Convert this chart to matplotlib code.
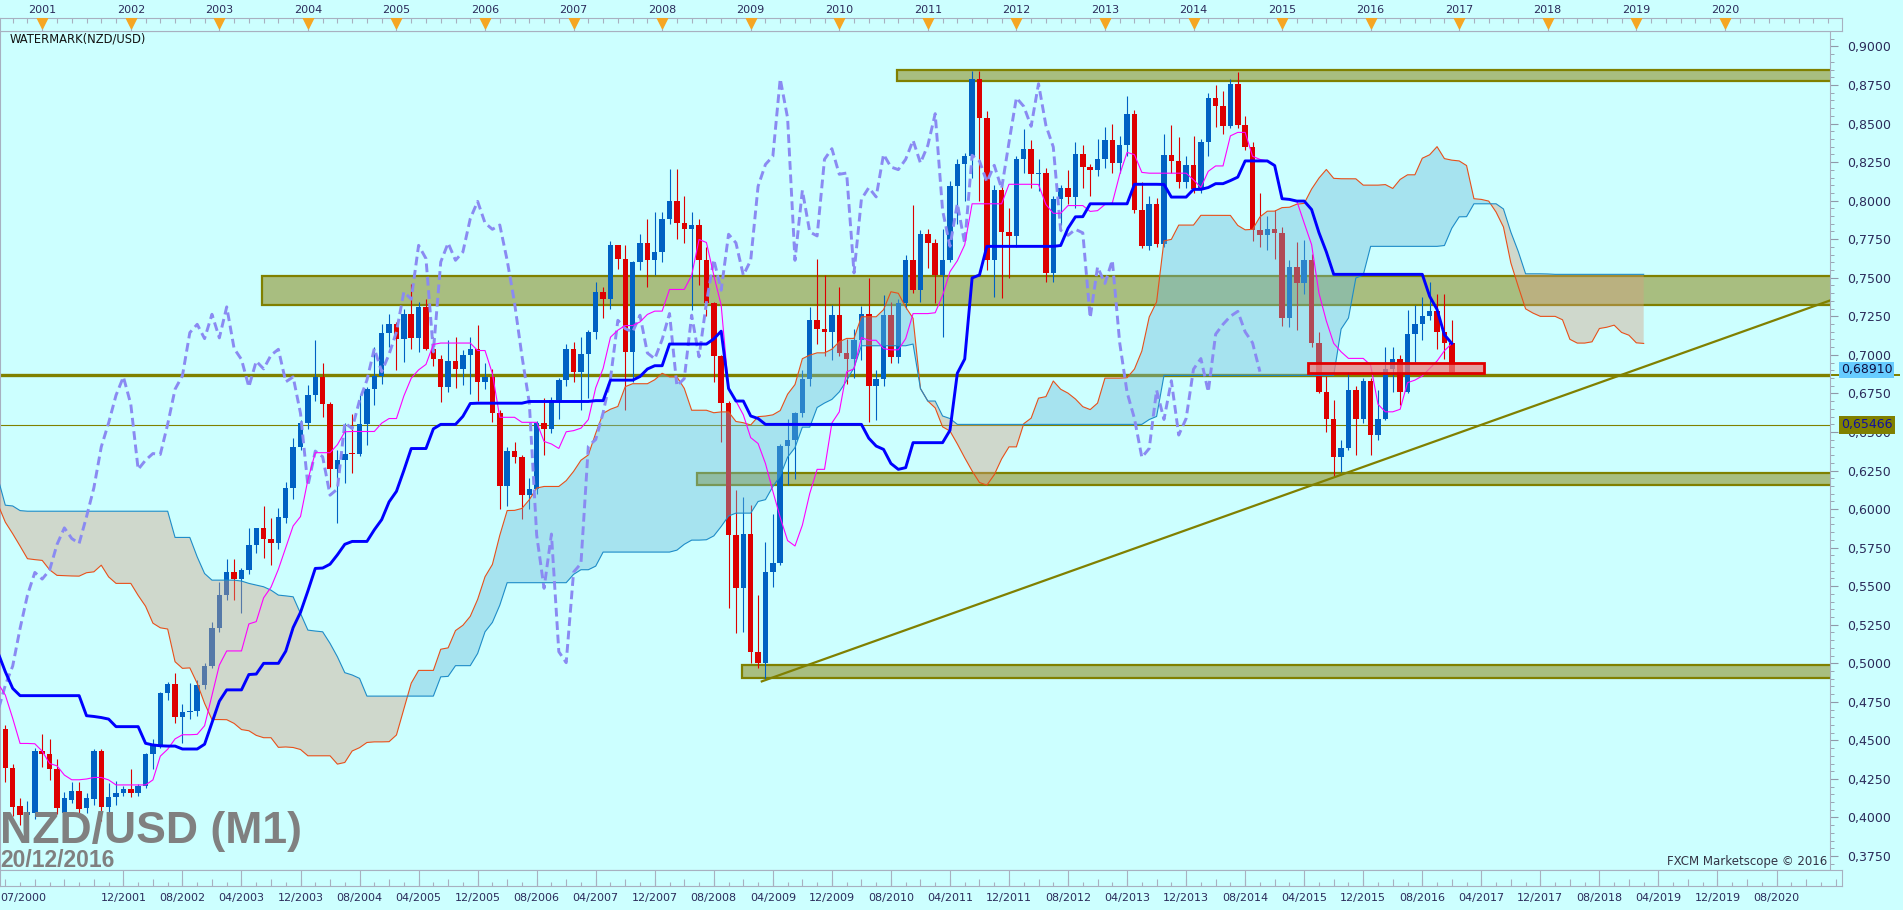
import numpy as np
import pandas as pd
import matplotlib
matplotlib.use("Agg")
import matplotlib.pyplot as plt
from matplotlib.patches import Rectangle

# monthly candles 07/2000 .. 12/2016
opens = [
    0.4675, 0.4571, 0.4319, 0.4075, 0.4016, 0.4027, 0.4431, 0.4411, 0.4312, 0.4031,
    0.4113, 0.4172, 0.4059, 0.4120, 0.4431, 0.4070, 0.4135, 0.4161, 0.4183, 0.4161,
    0.4204, 0.4411, 0.4470, 0.4805, 0.4864, 0.4653, 0.4685, 0.4690, 0.4858, 0.4982,
    0.5226, 0.5442, 0.5589, 0.5546, 0.5604, 0.5770, 0.5878, 0.5809, 0.5777, 0.5945,
    0.6138, 0.6403, 0.6559, 0.6738, 0.6857, 0.6680, 0.6257, 0.6317, 0.6360, 0.6354,
    0.6550, 0.6777, 0.6865, 0.7144, 0.7198, 0.7105, 0.7263, 0.7110, 0.7311, 0.7041,
    0.6970, 0.6792, 0.6959, 0.6909, 0.6998, 0.7036, 0.6825, 0.6857, 0.6620, 0.6151,
    0.6376, 0.6339, 0.6090, 0.6130, 0.6559, 0.6522, 0.6706, 0.6836, 0.7041, 0.6890,
    0.7004, 0.7149, 0.7408, 0.7361, 0.7710, 0.7624, 0.7019, 0.7602, 0.7725, 0.7613,
    0.7667, 0.7883, 0.7995, 0.7855, 0.7814, 0.7842, 0.7613, 0.7337, 0.6993, 0.6689,
    0.5831, 0.5486, 0.5838, 0.5075, 0.5004, 0.5591, 0.5647, 0.6408, 0.6451, 0.6624,
    0.6846, 0.7224, 0.7170, 0.7148, 0.7257, 0.7012, 0.6974, 0.7099, 0.7268, 0.6799,
    0.6846, 0.7257, 0.6987, 0.7339, 0.7618, 0.7419, 0.7782, 0.7726, 0.7516, 0.7613,
    0.8093, 0.8235, 0.8287, 0.8790, 0.8536, 0.7613, 0.8067, 0.7797, 0.7771, 0.8268,
    0.8337, 0.8171, 0.8179, 0.7531, 0.8009, 0.8084, 0.8024, 0.8300, 0.8218, 0.8201,
    0.8268, 0.8391, 0.8244, 0.8358, 0.8564, 0.7937, 0.7704, 0.7981, 0.7721, 0.8294,
    0.8257, 0.8121, 0.8229, 0.8078, 0.8378, 0.8667, 0.8611, 0.8482, 0.8758, 0.8488,
    0.8348, 0.7808, 0.7775, 0.7814, 0.7791, 0.7240, 0.7570, 0.7463, 0.7613, 0.7078,
    0.6756, 0.6587, 0.6335, 0.6393, 0.6771, 0.6581, 0.6832, 0.6480, 0.6587, 0.6907,
    0.6976, 0.6760, 0.7134, 0.7198, 0.7250, 0.7282, 0.7149, 0.7078,
]
highs = [
    0.4720, 0.4600, 0.4350, 0.4125, 0.4110, 0.4450, 0.4539, 0.4507, 0.4377, 0.4167,
    0.4228, 0.4228, 0.4157, 0.4442, 0.4442, 0.4226, 0.4239, 0.4204, 0.4314, 0.4215,
    0.4420, 0.4507, 0.4815, 0.4880, 0.4938, 0.4735, 0.4869, 0.4890, 0.5000, 0.5270,
    0.5528, 0.5675, 0.5675, 0.5615, 0.5874, 0.5880, 0.6019, 0.5939, 0.6008, 0.6177,
    0.6458, 0.6580, 0.6803, 0.7095, 0.6944, 0.6695, 0.6382, 0.6559, 0.6619, 0.6738,
    0.6792, 0.7051, 0.7203, 0.7263, 0.7210, 0.7300, 0.7462, 0.7343, 0.7365, 0.7116,
    0.7000, 0.7095, 0.7116, 0.7034, 0.7116, 0.7192, 0.6944, 0.6911, 0.6641, 0.6400,
    0.6436, 0.6350, 0.6200, 0.6570, 0.6717, 0.6728, 0.6853, 0.7069, 0.7084, 0.7116,
    0.7160, 0.7473, 0.7440, 0.7739, 0.7715, 0.7710, 0.7610, 0.7786, 0.7883, 0.7926,
    0.7926, 0.8207, 0.8207, 0.8028, 0.7926, 0.7883, 0.7700, 0.7340, 0.7000, 0.6700,
    0.6123, 0.6079, 0.6025, 0.5442, 0.5788, 0.5971, 0.6420, 0.6587, 0.6630, 0.6900,
    0.7311, 0.7624, 0.7516, 0.7322, 0.7440, 0.7100, 0.7170, 0.7315, 0.7500, 0.6900,
    0.7387, 0.7343, 0.7360, 0.7646, 0.7970, 0.7808, 0.7819, 0.7750, 0.7819, 0.8130,
    0.8270, 0.8310, 0.8842, 0.8840, 0.8580, 0.8100, 0.8110, 0.7950, 0.8290, 0.8466,
    0.8390, 0.8270, 0.8210, 0.8030, 0.8100, 0.8200, 0.8380, 0.8360, 0.8240, 0.8400,
    0.8480, 0.8500, 0.8420, 0.8676, 0.8590, 0.8120, 0.8030, 0.8020, 0.8430, 0.8490,
    0.8410, 0.8290, 0.8420, 0.8400, 0.8700, 0.8750, 0.8710, 0.8790, 0.8835, 0.8550,
    0.8380, 0.8050, 0.7900, 0.7940, 0.7830, 0.7613, 0.7732, 0.7745, 0.7657, 0.7150,
    0.6860, 0.6706, 0.6451, 0.6890, 0.6800, 0.6850, 0.6850, 0.6771, 0.7052, 0.7052,
    0.7000, 0.7289, 0.7322, 0.7376, 0.7473, 0.7397, 0.7397, 0.7229,
]
lows = [
    0.4550, 0.4232, 0.4010, 0.3950, 0.3960, 0.3990, 0.4325, 0.4243, 0.4020, 0.3980,
    0.4092, 0.4027, 0.4027, 0.4081, 0.3980, 0.4005, 0.4081, 0.4140, 0.4135, 0.4140,
    0.4190, 0.4312, 0.4448, 0.4760, 0.4615, 0.4485, 0.4636, 0.4660, 0.4830, 0.4967,
    0.5200, 0.5410, 0.5410, 0.5323, 0.5578, 0.5712, 0.5680, 0.5636, 0.5740, 0.5907,
    0.6062, 0.6380, 0.6518, 0.6699, 0.6600, 0.6144, 0.5911, 0.6166, 0.6235, 0.6343,
    0.6414, 0.6673, 0.6814, 0.7051, 0.6900, 0.6954, 0.7041, 0.7019, 0.7030, 0.6930,
    0.6691, 0.6760, 0.6788, 0.6803, 0.6743, 0.6702, 0.6780, 0.6565, 0.5998, 0.6019,
    0.6300, 0.5933, 0.6000, 0.6100, 0.6350, 0.6490, 0.6581, 0.6800, 0.6826, 0.6641,
    0.6717, 0.7100, 0.7242, 0.7300, 0.7559, 0.6641, 0.6825, 0.7550, 0.7440, 0.7516,
    0.7600, 0.7850, 0.7750, 0.7726, 0.7289, 0.7451, 0.7250, 0.6825, 0.6436, 0.5356,
    0.5194, 0.5205, 0.5000, 0.4967, 0.4891, 0.5492, 0.5636, 0.6155, 0.6194, 0.6600,
    0.6800, 0.7073, 0.6991, 0.6969, 0.6990, 0.6814, 0.6853, 0.6965, 0.6565, 0.6576,
    0.6800, 0.6948, 0.6950, 0.7300, 0.7400, 0.7343, 0.7560, 0.7335, 0.7117, 0.7600,
    0.7850, 0.8000, 0.8150, 0.8000, 0.7550, 0.7375, 0.7370, 0.7500, 0.7700, 0.8180,
    0.8080, 0.8060, 0.7470, 0.7470, 0.7840, 0.7980, 0.7950, 0.8080, 0.8030, 0.8160,
    0.8210, 0.8180, 0.8180, 0.8290, 0.7920, 0.7690, 0.7680, 0.7700, 0.7700, 0.8180,
    0.8080, 0.8080, 0.8050, 0.8050, 0.8290, 0.8480, 0.8430, 0.8470, 0.8470, 0.8330,
    0.7740, 0.7700, 0.7680, 0.7620, 0.7190, 0.7181, 0.7159, 0.7397, 0.7050, 0.6750,
    0.6500, 0.6209, 0.6242, 0.6380, 0.6350, 0.6560, 0.6350, 0.6447, 0.6580, 0.6760,
    0.6674, 0.6750, 0.6954, 0.7095, 0.7224, 0.7041, 0.6976, 0.6890,
]
closes = [
    0.4571, 0.4319, 0.4070, 0.4016, 0.4037, 0.4431, 0.4411, 0.4312, 0.4060, 0.4124,
    0.4172, 0.4055, 0.4129, 0.4431, 0.4070, 0.4135, 0.4161, 0.4183, 0.4161, 0.4204,
    0.4411, 0.4470, 0.4805, 0.4864, 0.4653, 0.4685, 0.4690, 0.4858, 0.4982, 0.5226,
    0.5442, 0.5589, 0.5546, 0.5604, 0.5770, 0.5878, 0.5809, 0.5777, 0.5950, 0.6138,
    0.6403, 0.6559, 0.6738, 0.6857, 0.6680, 0.6257, 0.6317, 0.6360, 0.6354, 0.6550,
    0.6777, 0.6865, 0.7144, 0.7198, 0.7105, 0.7263, 0.7110, 0.7311, 0.7041, 0.6970,
    0.6792, 0.6959, 0.6909, 0.6998, 0.7036, 0.6825, 0.6857, 0.6620, 0.6151, 0.6376,
    0.6339, 0.6090, 0.6130, 0.6559, 0.6522, 0.6706, 0.6836, 0.7041, 0.6890, 0.7004,
    0.7149, 0.7408, 0.7361, 0.7710, 0.7624, 0.7019, 0.7602, 0.7725, 0.7613, 0.7667,
    0.7883, 0.7995, 0.7855, 0.7814, 0.7842, 0.7613, 0.7337, 0.6993, 0.6689, 0.5831,
    0.5486, 0.5838, 0.5075, 0.5004, 0.5591, 0.5647, 0.6408, 0.6451, 0.6624, 0.6846,
    0.7224, 0.7170, 0.7148, 0.7257, 0.7012, 0.6974, 0.7099, 0.7268, 0.6799, 0.6846,
    0.7257, 0.6987, 0.7339, 0.7618, 0.7419, 0.7782, 0.7726, 0.7516, 0.7613, 0.8093,
    0.8235, 0.8287, 0.8790, 0.8536, 0.7613, 0.8067, 0.7797, 0.7771, 0.8268, 0.8337,
    0.8171, 0.8179, 0.7531, 0.8009, 0.8084, 0.8024, 0.8300, 0.8218, 0.8201, 0.8268,
    0.8391, 0.8244, 0.8358, 0.8564, 0.7937, 0.7704, 0.7981, 0.7721, 0.8294, 0.8257,
    0.8121, 0.8229, 0.8078, 0.8378, 0.8667, 0.8611, 0.8482, 0.8758, 0.8488, 0.8348,
    0.7808, 0.7775, 0.7814, 0.7791, 0.7240, 0.7570, 0.7463, 0.7613, 0.7078, 0.6756,
    0.6587, 0.6335, 0.6393, 0.6771, 0.6581, 0.6832, 0.6480, 0.6587, 0.6907, 0.6976,
    0.6760, 0.7134, 0.7198, 0.7250, 0.7282, 0.7149, 0.7078, 0.6891,
]

# ichimoku values at the left edge (they depend on history before 07/2000)
tenkan_start = [0.4870, 0.4794, 0.4643, 0.4480, 0.4480, 0.4478, 0.4430, 0.4350]
kijun_start = [0.5070, 0.4945, 0.4837, 0.4790, 0.4790, 0.4790, 0.4790, 0.4790, 0.4790,
               0.4790, 0.4790, 0.4790, 0.4660, 0.4655, 0.4648, 0.4638, 0.4589, 0.4589,
               0.4589, 0.4589, 0.4481, 0.4470, 0.4465, 0.4463, 0.4463]
span_a_start = [0.6030, 0.5915, 0.5840, 0.5760, 0.5678, 0.5672, 0.5667, 0.5606, 0.5570,
                0.5568, 0.5566, 0.5565, 0.5587, 0.5593, 0.5636, 0.5560, 0.5518, 0.5518,
                0.5518, 0.5440, 0.5370, 0.5260, 0.5230, 0.5222, 0.5010, 0.4967]
span_b_start = ([0.6200, 0.6025, 0.6020, 0.5990] + [0.5986] * 20 + [0.5816] * 3 +
                [0.5690, 0.5582, 0.5539, 0.5539, 0.5539, 0.5539, 0.5533, 0.5518, 0.5507,
                 0.5496, 0.5474, 0.5442, 0.5437, 0.5431, 0.5323, 0.5215, 0.5209, 0.5204,
                 0.5129, 0.5042, 0.4939, 0.4924, 0.4902] + [0.4787] * 10)

# support / resistance drawings: (first bar, low, high)
zones = [(121.8, 0.8775, 0.8850), (35.8, 0.7325, 0.7510),
         (94.7, 0.6155, 0.6235), (100.8, 0.4904, 0.4988)]
red_zone = (177.5, 201.4, 0.6885, 0.6950)
level_thick = 0.6868
level_thin = 0.6546
trend_x = [104, 181]
trend_y = [0.4891, 0.6205]
last_price = 0.68910
other_price = 0.65466

price_ticks = np.arange(0.375, 0.9001, 0.025)
years = list(range(2001, 2021))
bottom_labels = ["12/2001", "08/2002", "04/2003", "12/2003", "08/2004", "04/2005",
                 "12/2005", "08/2006", "04/2007", "12/2007", "08/2008", "04/2009",
                 "12/2009", "08/2010", "04/2011", "12/2011", "08/2012", "04/2013",
                 "12/2013", "08/2014", "04/2015", "12/2015", "08/2016", "04/2017",
                 "12/2017", "08/2018", "04/2019", "12/2019", "08/2020"]

W, H = 1903, 910
BG = "#CCFFFF"
TXT = "#2B2B5A"
OLIVE = "#808000"
BAR_PX = 7.38      # pixels per monthly bar
BAR0_PX = -2.06    # pixel x of the 07/2000 bar


def rect(left, top, right, bottom):
    return [left / W, 1 - bottom / H, (right - left) / W, (bottom - top) / H]


def price_at(ypx):
    return 0.9 - (ypx - 46) / 1542.9


def bar_at(xpx):
    return (xpx - BAR0_PX) / BAR_PX


def month_index(label):
    m, y = label.split("/")
    return (int(y) - 2000) * 12 + int(m) - 7


o = np.array(opens)
h = np.array(highs)
l = np.array(lows)
c = np.array(closes)
n = len(c)
x = np.arange(n)

# ichimoku 9/26/52
hs, ls = pd.Series(h), pd.Series(l)
tenkan = ((hs.rolling(9).max() + ls.rolling(9).min()) / 2).to_numpy()
tenkan[:len(tenkan_start)] = tenkan_start
kijun = ((hs.rolling(26).max() + ls.rolling(26).min()) / 2).to_numpy()
kijun[:len(kijun_start)] = kijun_start
mid52 = ((hs.rolling(52, min_periods=1).max() + ls.rolling(52, min_periods=1).min()) / 2).to_numpy()
shift = 26
cx = np.arange(n + shift)
span_a = np.empty(n + shift)
span_a[:shift] = span_a_start
span_a[shift:] = (tenkan + kijun) / 2
span_b = np.empty(n + shift)
span_b[shift:] = mid52
span_b[:len(span_b_start)] = span_b_start

fig = plt.figure(figsize=(W / 100, H / 100), dpi=100, facecolor=BG)
ax = fig.add_axes(rect(0, 31, 1830, 870), facecolor=BG)
xmin, xmax = bar_at(0), bar_at(1830)
ax.set_xlim(xmin, xmax)
ax.set_ylim(price_at(870), price_at(31))

# zones and levels
for start, lo_, hi_ in zones:
    ax.add_patch(Rectangle((start, lo_), xmax + 5 - start, hi_ - lo_, facecolor="#A8BE80",
                           edgecolor=OLIVE, lw=1.6, zorder=1.2))
ax.axhline(level_thick, color=OLIVE, lw=2.4, zorder=1.3)
ax.axhline(level_thin, color=OLIVE, lw=0.8, zorder=1.3)

# candles
up = c >= o
col = np.where(up, "#0061C3", "#DD0000")
ax.vlines(x, l, h, colors=col, lw=0.8, zorder=2)
ax.bar(x, np.maximum(np.abs(c - o), 0.0007), bottom=np.minimum(o, c), width=0.74,
       color=col, lw=0, zorder=2.1)

# cloud
ax.fill_between(cx, span_a, span_b, where=span_a >= span_b, interpolate=True,
                color="#6DBBD9", alpha=0.4, lw=0, zorder=3)
ax.fill_between(cx, span_a, span_b, where=span_a < span_b, interpolate=True,
                color="#D69E80", alpha=0.4, lw=0, zorder=3)
ax.plot(cx, span_a, color="#E8501A", lw=0.8, zorder=4)
ax.plot(cx, span_b, color="#1E8CC8", lw=0.8, zorder=4)

# lines
ax.plot(x - shift, c, color="#8A8AF2", lw=2.1, dashes=(3, 1.6), zorder=4.2)
ax.plot(x, tenkan, color="#FF00FF", lw=0.8, zorder=4.3)
ax.plot(x, kijun, color="#0000FF", lw=2.1, zorder=4.4)

# trend line from the 2009 low through the 2015 low
slope = (trend_y[1] - trend_y[0]) / (trend_x[1] - trend_x[0])
tx = [trend_x[0] - 0.5, xmax]
ax.plot(tx, [trend_y[0] + slope * (v - trend_x[0]) for v in tx], color=OLIVE, lw=1.6, zorder=4.5)

rz0, rz1, rzl, rzh = red_zone
ax.add_patch(Rectangle((rz0, rzl), rz1 - rz0, rzh - rzl, facecolor=(0.93, 0.5, 0.5, 0.75),
                       edgecolor="#E00000", lw=2, zorder=4.6))

# right price axis
ax.yaxis.tick_right()
ax.set_yticks(price_ticks)
ax.set_yticklabels([f"{v:.4f}".replace(".", ",") for v in price_ticks])
ax.set_yticks(np.arange(0.370, 0.9101, 0.005), minor=True)
ax.tick_params(axis="y", which="major", length=6, pad=6, color="#9098A8",
               labelsize=9, labelcolor=TXT)
ax.tick_params(axis="y", which="minor", length=3, color="#9098A8")
ax.set_xticks([])
for s in ax.spines.values():
    s.set_color("#A8B0C0")

tr = ax.get_yaxis_transform()
ax.text(1.006, last_price + 0.0012, f"{last_price:.5f}".replace(".", ","), transform=tr,
        fontsize=9, color="#101040", va="center", ha="left", clip_on=False, zorder=6,
        bbox=dict(facecolor="#66CCFF", edgecolor="none", pad=1.2))
ax.add_patch(Rectangle((1.0, level_thick - 0.0007), 0.038, 0.0014, transform=tr,
                       facecolor=OLIVE, edgecolor="none", clip_on=False))
ax.text(1.006, other_price, f"{other_price:.5f}".replace(".", ","), transform=tr,
        fontsize=9, color="#1010A0", va="center", ha="left", clip_on=False, zorder=6,
        bbox=dict(facecolor=OLIVE, edgecolor="none", pad=1.6))

# top ruler with year marks
ax_top = fig.add_axes(rect(0, 18, 1842, 31), facecolor=BG)
ax_top.set_xlim(xmin, bar_at(1842))
ax_top.set_ylim(0, 1)
ax_top.set_xticks([])
ax_top.set_yticks([])
for s in ax_top.spines.values():
    s.set_color("#A8B0C0")
year_idx = [month_index(f"01/{y}") for y in years]
ax_top.vlines(np.arange(0, 256, 2), 0.6, 1.0, color="#A8B0C0", lw=0.8)
ax_top.vlines(year_idx, 0, 1, color="#A8B0C0", lw=0.8)
ax_top.scatter(year_idx, [0.62] * len(year_idx), marker="v", s=55, color="#F5A623", zorder=3)
for yi, yr in zip(year_idx, years):
    ax_top.text(yi, 1.62, str(yr), ha="center", va="center", fontsize=8, color=TXT,
                transform=ax_top.get_xaxis_transform(), clip_on=False)

# bottom ruler with dates
ax_bot = fig.add_axes(rect(0, 870, 1842, 886), facecolor=BG)
ax_bot.set_xlim(xmin, bar_at(1842))
ax_bot.set_ylim(0, 1)
ax_bot.set_xticks([])
ax_bot.set_yticks([])
for s in ax_bot.spines.values():
    s.set_color("#A8B0C0")
lbl_idx = [month_index(t) for t in bottom_labels]
ax_bot.vlines(np.arange(1, 256, 4), 0, 0.45, color="#A8B0C0", lw=0.8)
ax_bot.vlines(np.arange(3, 256, 4), 0, 0.25, color="#A8B0C0", lw=0.8)
ax_bot.vlines(lbl_idx, 0, 1, color="#A8B0C0", lw=0.8)
for li, t in zip(lbl_idx, bottom_labels):
    ax_bot.text(li, -0.75, t, ha="center", va="center", fontsize=8, color=TXT,
                transform=ax_bot.get_xaxis_transform(), clip_on=False)
ax_bot.text(xmin, -0.75, "07/2000", ha="left", va="center", fontsize=8, color=TXT,
            transform=ax_bot.get_xaxis_transform(), clip_on=False)

# texts
fig.text(10 / W, 1 - 39 / H, "WATERMARK(NZD/USD)", fontsize=8.3, color="#111111", va="center")
fig.text(0, 1 - 843 / H, "NZD/USD (M1)", fontsize=32, fontweight="bold",
         family="Liberation Sans", color="#808080", va="baseline")
fig.text(0, 1 - 867 / H, "20/12/2016", fontsize=16.5, fontweight="bold",
         family="Liberation Sans", color="#808080", va="baseline")
fig.text(1827 / W, 1 - 862 / H, "FXCM Marketscope © 2016", fontsize=8.5, color="#333344",
         ha="right", va="center")

fig.savefig("out.png", dpi=100, facecolor=BG)
